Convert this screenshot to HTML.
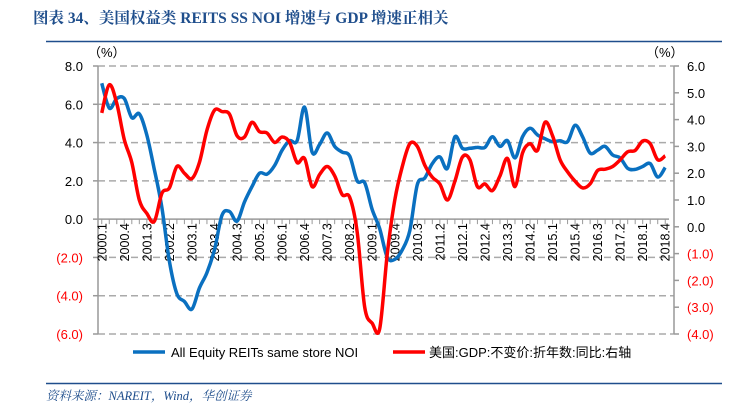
<!DOCTYPE html>
<html><head><meta charset="utf-8"><style>
body{margin:0;background:#fff;width:740px;height:412px;overflow:hidden}
svg{display:block}
</style></head><body>
<svg id="chart" width="740" height="412" xmlns="http://www.w3.org/2000/svg">
<text x="33" y="23" font-family="'Liberation Serif','Noto Serif CJK SC',serif" font-weight="bold" font-size="15.5" fill="#1f4e8c">图表 34、美国权益类 REITS SS NOI 增速与 GDP 增速正相关</text>
<line x1="46" y1="41.5" x2="722" y2="41.5" stroke="#1f4e8c" stroke-width="1.5"/>
<text x="88" y="57" font-family="'Liberation Sans','Noto Sans CJK SC',sans-serif" font-size="13">（%）</text>
<text x="646" y="57" font-family="'Liberation Sans','Noto Sans CJK SC',sans-serif" font-size="13">（%）</text>
<g id="grid"></g><g id="axes"></g><g id="series"></g>
<g>
<line x1="133" y1="352" x2="165" y2="352" stroke="#0a70c0" stroke-width="3.5"/>
<text x="171" y="357" font-family="'Liberation Sans',sans-serif" font-size="13">All Equity REITs same store NOI</text>
<line x1="393" y1="352" x2="425" y2="352" stroke="#ff0000" stroke-width="3.5"/>
<text x="429" y="357" font-family="'Liberation Sans','Noto Sans CJK SC',sans-serif" font-size="13">美国:GDP:不变价:折年数:同比:右轴</text>
</g>
<line x1="46" y1="383.5" x2="722" y2="383.5" stroke="#1f4e8c" stroke-width="1.5"/>
<text x="46" y="400" font-family="'Liberation Serif','Noto Serif CJK SC',serif" font-style="italic" font-size="12.5" fill="#1f4e8c">资料来源：NAREIT，Wind，华创证券</text>
</svg>
<script>
const categories=[];for(let y=2000;y<=2018;y++)for(let q=1;q<=4;q++)categories.push(y+'.'+q);
const noiValues=[7.1,5.8,6.3,6.3,5.3,5.5,4.4,2.6,0.6,-2.2,-3.9,-4.3,-4.7,-3.6,-2.8,-1.6,0.2,0.4,-0.1,0.9,1.7,2.4,2.35,2.8,3.6,4.1,4.1,5.85,3.5,3.9,4.5,3.8,3.5,3.3,2.0,1.9,0.5,-0.5,-2.0,-2.1,-1.6,-0.6,1.8,2.15,2.9,3.25,2.65,4.3,3.7,3.7,3.75,3.75,4.3,3.8,4.1,3.2,4.3,4.75,4.4,4.2,4.05,4.1,4.05,4.9,4.3,3.45,3.6,3.8,3.35,3.2,2.65,2.6,2.75,2.9,2.2,2.7];
const gdpValues=[4.25,5.3,4.6,3.25,2.4,1.0,0.5,0.2,1.25,1.45,2.25,2.0,1.8,2.4,3.6,4.35,4.3,4.2,3.4,3.35,3.9,3.55,3.5,3.15,3.35,3.15,2.4,2.55,1.5,1.95,2.25,1.9,1.2,1.1,-0.2,-3.0,-3.6,-3.8,-1.0,1.0,2.25,3.1,3.0,2.3,1.85,1.6,1.0,1.7,2.6,2.5,1.5,1.6,1.35,1.9,2.55,1.5,2.75,3.1,2.85,3.9,3.4,2.5,2.05,1.7,1.45,1.6,2.1,2.15,2.25,2.5,2.8,2.85,3.2,3.1,2.5,2.65];
const leftTicks=[8,6,4,2,0,-2,-4,-6];
const rightTicks=[6,5,4,3,2,1,0,-1,-2,-3,-4];
const NS='http://www.w3.org/2000/svg';
const X0=98,X1=674,XE=669,YT=66,YB=334;
const yL=v=>YT+(8-v)/14*(YB-YT);
const yR=v=>YT+(6-v)/10*(YB-YT);
const bw=(XE-X0)/categories.length;
const xC=i=>X0+bw*(i+0.5);
function mk(tag,attrs,parent){const e=document.createElementNS(NS,tag);for(const k in attrs)e.setAttribute(k,attrs[k]);parent.appendChild(e);return e;}
const grid=document.getElementById('grid'),axes=document.getElementById('axes'),ser=document.getElementById('series');
const fs="'Liberation Sans',sans-serif";
leftTicks.forEach(v=>{
  if(v!==0){const l=mk('line',{x1:X0,x2:X1,y1:yL(v),y2:yL(v),stroke:'#aaa','stroke-width':1.5,'stroke-dasharray':'7,4'},grid);
  
  }
  const t=mk('line',{x1:X0-5,x2:X0,y1:yL(v),y2:yL(v),stroke:'#999','stroke-width':1.5},axes);
  
  
  const tx=mk('text',{x:X0-15,y:yL(v)+5,'text-anchor':'end','font-family':fs,'font-size':13,fill:v<0?'#ff0000':'#000'},axes);
  tx.textContent=v<0?'('+(-v).toFixed(1)+')':v.toFixed(1);
  
  
});
rightTicks.forEach(v=>{
  const t=mk('line',{x1:X1,x2:X1+5,y1:yR(v),y2:yR(v),stroke:'#999','stroke-width':1.5},axes);
  
  
  const tx=mk('text',{x:X1+13,y:yR(v)+5,'font-family':fs,'font-size':13,fill:v<0?'#ff0000':'#000'},axes);
  tx.textContent=v<0?'('+(-v).toFixed(1)+')':v.toFixed(1);
  
  
});
let a=mk('line',{x1:X0,x2:X0,y1:YT,y2:YB,stroke:'#999','stroke-width':1.5},axes);


a=mk('line',{x1:X1,x2:X1,y1:YT,y2:YB,stroke:'#999','stroke-width':1.5},axes);


a=mk('line',{x1:X0,x2:XE,y1:yL(0),y2:yL(0),stroke:'#999','stroke-width':1.5},axes);


categories.forEach((c,i)=>{
  const t=mk('line',{x1:xC(i),x2:xC(i),y1:yL(0),y2:yL(0)+5,stroke:'#999','stroke-width':1},axes);
  
  
  if(i%3===0){
    const x=xC(i)+4.5,y=yL(0)+4;
    const tx=mk('text',{x:x,y:y,'text-anchor':'end','font-family':fs,'font-size':12.5,transform:`rotate(-90 ${x} ${y})`},axes);
    tx.textContent=c;
    
    
  }
});
function smooth(pts){let d=`M${pts[0][0]},${pts[0][1]}`;
  for(let i=0;i<pts.length-1;i++){const p0=pts[Math.max(0,i-1)],p1=pts[i],p2=pts[i+1],p3=pts[Math.min(pts.length-1,i+2)];
    const c1=[p1[0]+(p2[0]-p0[0])/6,p1[1]+(p2[1]-p0[1])/6],c2=[p2[0]-(p3[0]-p1[0])/6,p2[1]-(p3[1]-p1[1])/6];
    d+=` C${c1[0].toFixed(1)},${c1[1].toFixed(1)} ${c2[0].toFixed(1)},${c2[1].toFixed(1)} ${p2[0].toFixed(1)},${p2[1].toFixed(1)}`;}
  return d;}
const pb=mk('path',{d:smooth(noiValues.map((v,i)=>[xC(i),yL(v)])),fill:'none',stroke:'#0a70c0','stroke-width':3.5,'stroke-linejoin':'round'},ser);


const pr=mk('path',{d:smooth(gdpValues.map((v,i)=>[xC(i),yR(v)])),fill:'none',stroke:'#ff0000','stroke-width':3.5,'stroke-linejoin':'round'},ser);


</script>
</body></html>
